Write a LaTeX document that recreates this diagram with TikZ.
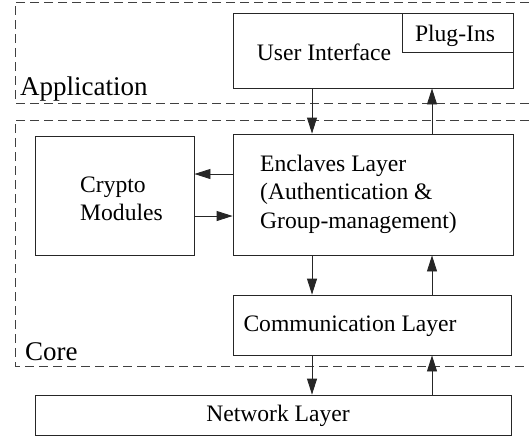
\documentclass[tikz,border=0pt]{standalone}
\usepackage{fontspec}
\setmainfont{Liberation Serif}
\usetikzlibrary{arrows.meta}
\begin{document}
\begin{tikzpicture}[x=1pt,y=-1pt,
  box/.style={draw=black!85, line width=0.8pt, inner sep=0pt, rectangle},
  txt/.style={inner sep=0pt, font=\fontsize{23.6}{28.5}\selectfont},
  lbl/.style={inner sep=0pt, font=\fontsize{27}{30}\selectfont, anchor=base west},
  region/.style={draw=black!75, line width=0.8pt, dash pattern=on 9pt off 5pt},
  arr/.style={draw=black!85, line width=0.8pt, -{Triangle[length=16pt,width=10pt]}}]
\useasboundingbox (0,0) rectangle (529,437);
% regions
\draw[region] (529,2) -- (15,2) -- (15,103) -- (529,103);
\draw[region] (529,120) -- (15,120) -- (15,366) -- (529,366);
\node[lbl] (app) at (20,95) {Application};
\node[lbl] (core) at (25,360) {Core};
% boxes
\node[box, minimum width=280pt, minimum height=75pt] (ui) at (373,50.5) {};
\node[box, minimum width=111pt, minimum height=39pt] (plug) at (457.5,32.5) {};
\node[box, minimum width=159pt, minimum height=119pt] (crypto) at (114.5,195.5) {};
\node[box, minimum width=280pt, minimum height=121pt] (enc) at (373,194.5) {};
\node[box, minimum width=278pt, minimum height=60pt] (comm) at (372,325) {};
\node[box, minimum width=476pt, minimum height=40pt] (net) at (273,415) {};
% texts
\node[txt] (uitext) at (324,52) {User Interface};
\node[txt] (plugtext) at (455,36) {Plug-Ins};
\node[txt, align=left, anchor=west] (cryptotext) at (80,199) {Crypto\\Modules};
\node[txt, align=left, anchor=west] (enctext) at (260,194) {Enclaves Layer\\(Authentication \&\\Group-management)};
\node[txt] (commtext) at (350,326) {Communication Layer};
\node[txt] (nettext) at (278,416) {Network Layer};
% connector guides
\coordinate (xl) at (312,0);
\coordinate (xr) at (432,0);
\coordinate (ya) at (0,174);
\coordinate (yb) at (0,216);
% arrows
\draw[arr] (xl |- ui.south) -- (xl |- enc.north);
\draw[arr] (xr |- enc.north) -- (xr |- ui.south);
\draw[arr] (enc.west |- ya) -- (crypto.east |- ya);
\draw[arr] (crypto.east |- yb) -- (enc.west |- yb);
\draw[arr] (xl |- enc.south) -- (xl |- comm.north);
\draw[arr] (xr |- comm.north) -- (xr |- enc.south);
\draw[arr] (xl |- comm.south) -- (xl |- net.north);
\draw[arr] (xr |- net.north) -- (xr |- comm.south);
\end{tikzpicture}
\end{document}
